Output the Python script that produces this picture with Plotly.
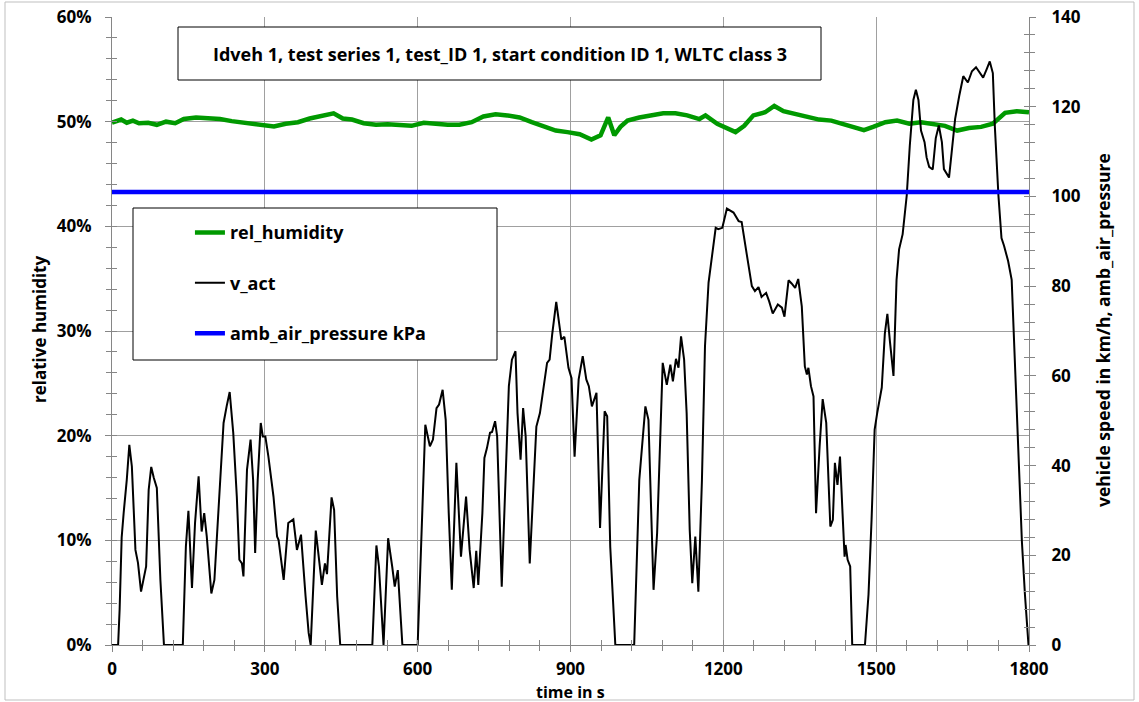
import plotly.graph_objects as go

# ---------------- data ----------------
speed_time = [0, 12, 15, 19, 23, 29, 34, 39, 46, 51, 57, 61, 67, 72, 77, 82, 88, 95, 102, 139,
              145, 150, 157, 163, 170, 176, 181, 186, 195, 201, 209, 219, 225, 231, 238, 245, 250,
              255, 258, 265, 272, 277, 281, 286, 292, 296, 301, 307, 317, 324, 327, 337, 346, 356,
              363, 371, 380, 386, 390, 400, 412, 418, 422, 431, 436, 442, 448, 511, 519, 524, 533,
              542, 550, 555, 561, 570, 600, 607, 615, 624, 630, 637, 642, 649, 655, 661, 667, 676,
              685, 695, 702, 710, 715, 719, 727, 731, 736, 742, 746, 752, 756, 765, 772, 779, 785,
              792, 796, 802, 807, 812, 820, 827, 833, 840, 847, 854, 859, 864, 872, 877, 882, 888,
              896, 902, 908, 916, 924, 931, 936, 942, 951, 958, 967, 972, 978, 988, 1025, 1035,
              1047, 1053, 1063, 1070, 1076, 1081, 1089, 1096, 1101, 1107, 1112, 1117, 1123, 1128,
              1134, 1139, 1145, 1151, 1158, 1164, 1171, 1177, 1185, 1190, 1198, 1207, 1220, 1230,
              1236, 1246, 1256, 1262, 1269, 1275, 1284, 1290, 1297, 1307, 1315, 1320, 1328, 1334,
              1341, 1347, 1354, 1360, 1364, 1367, 1372, 1377, 1382, 1389, 1395, 1402, 1410, 1415,
              1419, 1424, 1429, 1434, 1438, 1440, 1444, 1449, 1453, 1478, 1485, 1491, 1497, 1502,
              1508, 1511, 1517, 1522, 1527, 1534, 1540, 1545, 1552, 1560, 1566, 1573, 1578, 1583,
              1588, 1595, 1599, 1604, 1611, 1617, 1623, 1629, 1633, 1637, 1643, 1648, 1655, 1663,
              1671, 1680, 1688, 1696, 1704, 1710, 1717, 1723, 1729, 1733, 1740, 1746, 1751, 1759,
              1766, 1772, 1779, 1786, 1792, 1799]
v_act = [0, 0, 8, 24, 29.6, 36.8, 44.6, 39.8, 21.2, 18.3, 11.9, 14.5, 17.5, 34.6, 39.7, 37.3, 35,
         14.5, 0, 0, 21.9, 29.9, 12.7, 27.2, 37.6, 25.3, 29.4, 24.2, 11.5, 14.5, 29.4, 49.5, 53.2,
         56.4, 47.3, 33.1, 19, 18.2, 15.3, 39.1, 45.8, 36.8, 20.5, 36.8, 49.5, 46.5, 46.5, 42, 33.1,
         24.2, 23.4, 14.5, 27.2, 28, 21.2, 24.6, 10.8, 2.7, 0, 25.5, 13.4, 18.2, 15.8, 32.9, 30.1,
         10.8, 0, 0, 22.2, 17.5, 0, 23.8, 17.5, 13, 16.7, 0, 0, 23.4, 49.1, 44.3, 45.8, 52.8, 53.6,
         56.9, 50.2, 29.4, 12.3, 40.6, 19.7, 33.1, 21.2, 12.7, 21, 13.4, 29.4, 41.7, 43.9, 47.3,
         47.5, 49.9, 46.5, 13, 36.8, 57.7, 63.6, 65.5, 51.7, 41.3, 52.8, 46.5, 18.2, 35.3, 48.7,
         51.7, 57.3, 62.9, 63.6, 69.2, 76.5, 71.8, 68.1, 68.7, 61.8, 59.5, 42, 59.2, 64.4, 59.2,
         57.7, 53.2, 56.2, 26.1, 52.1, 51, 21.9, 0, 0, 36.8, 53.2, 50.2, 12.3, 24.9, 44.3, 62.9,
         58, 62.5, 58.8, 63.8, 61.8, 68.8, 63.6, 51.7, 25.7, 13.8, 24.2, 11.9, 36.8, 66.6, 80.8,
         86, 93, 92.7, 93, 97.3, 96.4, 94.5, 94.3, 87.1, 80, 78.9, 79.8, 77.6, 78.5, 76.6, 73.9,
         75.9, 75.2, 73.2, 81.3, 80.6, 79.6, 81.6, 75.5, 62.1, 60.3, 61.8, 57.7, 55.4, 29.4, 44.3,
         54.8, 49.5, 26.4, 27.9, 40.6, 35.7, 42, 29.4, 19.7, 22.3, 19, 17.5, 0, 0, 11.3, 28, 48,
         51.7, 56.2, 57.4, 69.4, 73.8, 67.7, 60, 81.4, 88.2, 91.6, 100.2, 111.3, 121.5, 123.8,
         121.5, 114.7, 112.1, 108.7, 106.6, 106, 113, 115.8, 112.1, 106.1, 105.3, 104.2, 109.6,
         117.3, 122.4, 126.8, 125.4, 127.9, 128.8, 127.5, 126.5, 128.4, 130.1, 127.5, 115.5, 100.2,
         90.7, 89, 85.6, 81.4, 64.3, 42.9, 23.2, 11.3, 0]

hum_time = [0, 18, 29, 41, 53, 71, 88, 106, 124, 141, 165, 188, 212, 235, 259, 282, 300, 318,
            341, 365, 388, 412, 435, 453, 471, 494, 518, 541, 565, 588, 612, 635, 659, 682, 706,
            729, 753, 776, 800, 824, 847, 871, 894, 918, 941, 959, 974, 986, 998, 1012, 1035, 1059,
            1082, 1106, 1129, 1153, 1165, 1188, 1212, 1224, 1241, 1259, 1282, 1300, 1318, 1341,
            1365, 1388, 1412, 1435, 1459, 1476, 1494, 1518, 1541, 1565, 1588, 1612, 1635, 1659,
            1682, 1706, 1729, 1753, 1776, 1800]
rel_humidity = [49.9, 50.2, 49.9, 50.1, 49.85, 49.9, 49.7, 50.0, 49.85, 50.25, 50.4, 50.35, 50.25,
                50.05, 49.9, 49.85, 49.7, 49.55, 49.8, 49.95, 50.3, 50.6, 50.8, 50.3, 50.2, 49.85,
                49.7, 49.75, 49.7, 49.6, 49.9, 49.75, 49.7, 49.7, 49.95, 50.5, 50.7, 50.6, 50.4,
                49.95, 49.55, 49.15, 49.0, 48.8, 48.3, 48.7, 50.4, 48.7, 49.5, 50.1, 50.4, 50.6,
                50.8, 50.8, 50.6, 50.25, 50.6, 49.8, 49.3, 49.0, 49.6, 50.6, 50.9, 51.5, 51.0,
                50.75, 50.4, 50.2, 50.1, 49.8, 49.5, 49.2, 49.5, 49.95, 50.1, 49.8, 49.95, 49.8,
                49.6, 49.15, 49.4, 49.5, 49.8, 50.85, 51.0, 50.9]
rel_humidity_frac = [h / 100 for h in rel_humidity]

pressure_time = [0, 300, 600, 900, 1200, 1500, 1800]
amb_air_pressure = [101.0, 101.0, 101.0, 101.0, 101.0, 101.0, 101.0]

title_text = "Idveh 1, test series 1, test_ID 1, start condition ID 1, WLTC class 3"

# ---------------- figure ----------------
FONT = "Open Sans"
AX = "#868686"
GRID = "#a0a0a0"
FS = 17

fig = go.Figure()
fig.add_trace(go.Scatter(x=hum_time, y=rel_humidity_frac, name="rel_humidity", mode="lines",
                         line=dict(color="#009900", width=4.5), legendgroup="a",
                         xaxis="x", yaxis="y"))
fig.add_trace(go.Scatter(x=speed_time, y=v_act, name="v_act", mode="lines",
                         line=dict(color="black", width=2), legendgroup="b",
                         xaxis="x", yaxis="y2"))
fig.add_trace(go.Scatter(x=pressure_time, y=amb_air_pressure, name="amb_air_pressure kPa",
                         mode="lines", line=dict(color="#0000ff", width=4.5), legendgroup="c",
                         xaxis="x", yaxis="y2"))
# invisible helpers so the inner half of the crossing tick marks is drawn
fig.add_trace(go.Scatter(x=[0], y=[0], mode="lines", showlegend=False, hoverinfo="skip",
                         xaxis="x3", yaxis="y3"))
fig.add_trace(go.Scatter(x=[0], y=[0], mode="lines", showlegend=False, hoverinfo="skip",
                         xaxis="x3", yaxis="y4"))

def bold(size=FS):
    return dict(family=FONT, size=size, color="black", weight="bold")

fig.update_layout(
    width=1139, height=702,
    margin=dict(l=112, r=110, t=17, b=57, autoexpand=False),
    paper_bgcolor="white", plot_bgcolor="white",
    font=bold(),
    xaxis=dict(range=[0, 1800], tick0=0, dtick=300, ticks="outside", ticklen=6, tickcolor=AX,
               showline=True, linecolor=AX, linewidth=1, showgrid=True, gridcolor=GRID,
               gridwidth=1, zeroline=False, tickfont=bold(), ticklabelstandoff=3,
               automargin=False,
               minor=dict(dtick=60, ticks="outside", ticklen=5, tickcolor=AX, showgrid=False)),
    yaxis=dict(range=[0, 0.6], tick0=0, dtick=0.1, tickformat=".0%", ticks="outside",
               ticklen=6, tickcolor=AX, showline=True, linecolor=AX, linewidth=1,
               showgrid=True, gridcolor=GRID, gridwidth=1, zeroline=False, tickfont=bold(),
               ticklabelstandoff=10, automargin=False,
               minor=dict(dtick=0.02, ticks="outside", ticklen=5, tickcolor=AX, showgrid=False)),
    yaxis2=dict(range=[0, 140], tick0=0, dtick=20, overlaying="y", side="right", anchor="x",
                ticks="outside", ticklen=6, tickcolor=AX, showline=True, linecolor=AX,
                linewidth=1, showgrid=False, zeroline=False, tickfont=bold(),
                ticklabelstandoff=12, automargin=False,
                minor=dict(dtick=4, ticks="outside", ticklen=5, tickcolor=AX, showgrid=False)),
    xaxis3=dict(range=[0, 1800], tick0=0, dtick=300, overlaying="x", anchor="y", side="bottom",
                ticks="inside", ticklen=5, tickcolor=AX, showticklabels=False, showline=False,
                showgrid=False, zeroline=False, automargin=False,
                minor=dict(dtick=60, ticks="inside", ticklen=5, tickcolor=AX, showgrid=False)),
    yaxis3=dict(range=[0, 0.6], tick0=0, dtick=0.1, overlaying="y", anchor="x", side="left",
                ticks="inside", ticklen=5, tickcolor=AX, showticklabels=False, showline=False,
                showgrid=False, zeroline=False, automargin=False,
                minor=dict(dtick=0.02, ticks="inside", ticklen=5, tickcolor=AX, showgrid=False)),
    yaxis4=dict(range=[0, 140], tick0=0, dtick=20, overlaying="y", anchor="x", side="right",
                ticks="inside", ticklen=5, tickcolor=AX, showticklabels=False, showline=False,
                showgrid=False, zeroline=False, automargin=False,
                minor=dict(dtick=4, ticks="inside", ticklen=5, tickcolor=AX, showgrid=False)),
    legend=dict(x=0.085, y=0.686, xanchor="left", yanchor="top", bgcolor="rgba(0,0,0,0)",
                borderwidth=0, tracegroupgap=24, itemwidth=30, font=bold(18)),
    showlegend=True,
)

def px_x(px):
    return (px - 112) / 917

def px_y(py):
    return (645 - py) / 628

shapes = [
    # outer chart border
    dict(type="rect", xref="paper", yref="paper", x0=px_x(5), x1=px_x(1134), y0=px_y(700),
         y1=px_y(2), line=dict(color="#bfbfbf", width=1), fillcolor="rgba(0,0,0,0)", layer="above"),
    # title box
    dict(type="rect", xref="paper", yref="paper", x0=px_x(178), x1=px_x(821), y0=px_y(80),
         y1=px_y(27), line=dict(color="black", width=1), fillcolor="white", layer="above"),
    # legend box
    dict(type="rect", xref="paper", yref="paper", x0=px_x(133), x1=px_x(497), y0=px_y(360),
         y1=px_y(208), line=dict(color="black", width=1), fillcolor="white", layer="above"),
]
fig.update_layout(shapes=shapes)

def note(text, x, y, angle=0, size=FS):
    fig.add_annotation(text=text, xref="paper", yref="paper", x=px_x(x), y=px_y(y),
                       xanchor="center", yanchor="middle", textangle=angle,
                       showarrow=False, font=bold(size))

note(title_text, 500, 54, size=18)
note("relative humidity", 40, 330, -90)
note("vehicle speed in km/h, amb_air_pressure", 1103, 330, -90, size=17.5)
note("time in s", 570, 692, size=16)

fig.write_html("out.html", config={"displayModeBar": False},
               post_script="document.body.style.margin='0';")
